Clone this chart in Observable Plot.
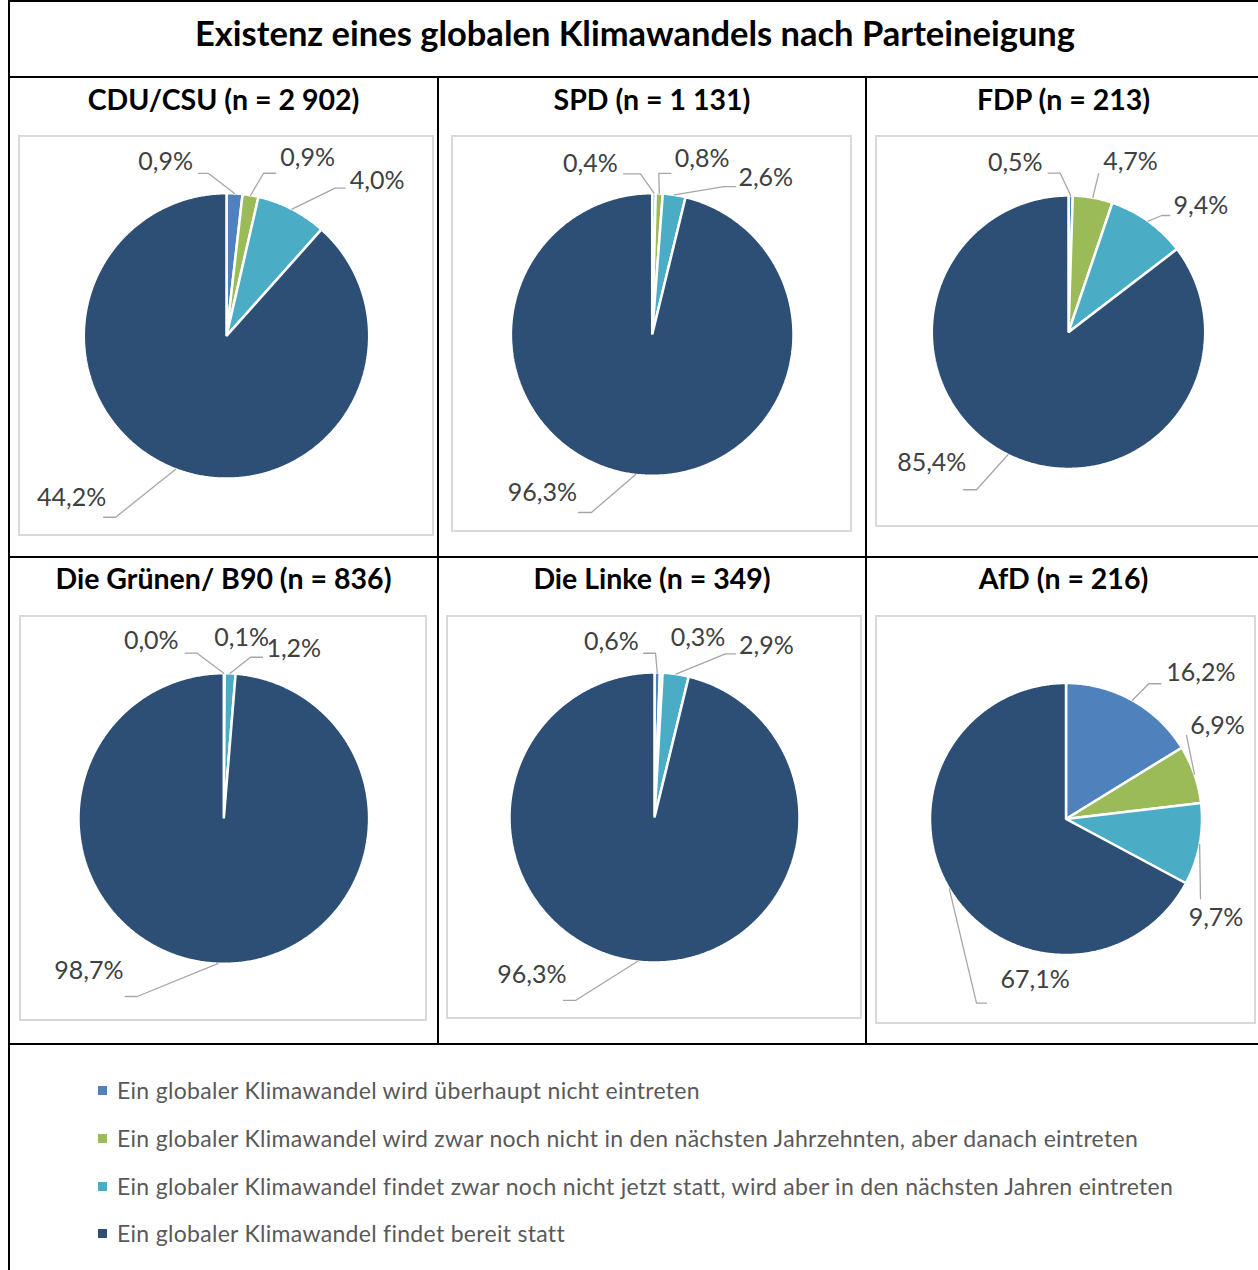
<!DOCTYPE html>
<html><head><meta charset="utf-8">
<script src="https://cdn.jsdelivr.net/npm/d3@7"></script>
<script src="https://cdn.jsdelivr.net/npm/@observablehq/plot@0.6"></script>
<style>
html,body{margin:0;padding:0;background:#fff}
body{width:1258px;height:1270px;overflow:hidden;position:relative;font-family:Lato,"Open Sans",sans-serif}
.line{position:absolute;background:#000}
.ttl{position:absolute;text-align:center;font-weight:700;color:#000;white-space:nowrap}
.frame{position:absolute;box-sizing:border-box;border:2px solid #D9D9D9}
.chart{position:absolute}
.leg{position:absolute;left:98px;font-size:23px;letter-spacing:0.3px;color:#595959;white-space:nowrap;display:flex;align-items:center}
.leg span.sw{display:inline-block;width:9px;height:9px;margin-right:10px}
</style></head><body>
<script>
// ---------- data ----------
const title = "Existenz eines globalen Klimawandels nach Parteineigung";
const categories = [
  "Ein globaler Klimawandel wird überhaupt nicht eintreten",
  "Ein globaler Klimawandel wird zwar noch nicht in den nächsten Jahrzehnten, aber danach eintreten",
  "Ein globaler Klimawandel findet zwar noch nicht jetzt statt, wird aber in den nächsten Jahren eintreten",
  "Ein globaler Klimawandel findet bereit statt"
];
const colors = ["#4F81BD", "#9BBB59", "#4BACC6", "#2D4E75"];
const parties = ["CDU/CSU", "SPD", "FDP", "Die Grünen/ B90", "Die Linke", "AfD"];
const sampleSizes = ["2 902", "1 131", "213", "836", "349", "216"];
const shareNie = [0.9, 0.4, 0.5, 0.0, 0.6, 16.2];
const shareSpaeter = [0.9, 0.8, 4.7, 0.1, 0.3, 6.9];
const shareBald = [4.0, 2.6, 9.4, 1.2, 2.9, 9.7];
const shareBereits = [44.2, 96.3, 85.4, 98.7, 96.3, 67.1];

// ---------- layout (page pixels) ----------
// frame box [left, top, right, bottom], pie centre and radius
const panelLayout = [
  {frame: [18, 135, 434, 536], cx: 226, cy: 335.4, r: 142.7, col: [10, 437], row: 99},
  {frame: [451, 135, 852, 532], cx: 651.7, cy: 334, r: 141.3, col: [439, 865], row: 99},
  {frame: [875, 135, 1264, 527], cx: 1068, cy: 331.7, r: 136.7, col: [867, 1260], row: 99},
  {frame: [19, 615, 427, 1021], cx: 223.3, cy: 818, r: 145.3, col: [10, 437], row: 578},
  {frame: [446, 615, 862, 1019], cx: 654, cy: 817, r: 145, col: [439, 865], row: 578},
  {frame: [875, 615, 1256, 1024], cx: 1065.5, cy: 818.5, r: 136, col: [867, 1260], row: 578}
];
// label nudges relative to slice edge midpoint: [labelDx, labelDy, kneeDx, kneeDy, tail]
const labelNudge = [
  [[-69, -31, -26, -20, -10], [57, -37, 13, -22, 12], [85, -28, 43, -21, 10], [-104, 29, -60, 48, -12]],
  [[-63.5, -29.7, -13.5, -19.4, -17], [42.9, -34.4, -0.5, -20, 12], [91.5, -16.9, 49.5, -8.4, 12], [-93, 18.7, -44, 37.7, -13]],
  [[-55.4, -33, -10.4, -22.3, -12], [37.7, -35.2, 5.7, -23.9, 0], [52.8, -14.8, 13.6, -5.6, 8], [-76.2, 8.2, -31.5, 35, -13]],
  [[-72.5, -31.9, -26.6, -20, -12], [17.4, -35.2], [63.6, -24.5, 20.3, -16.1, 12], [-128.9, 7.6, -80.7, 32.8, -12]],
  [[-45.9, -30.8, -1.7, -19.3, -12], [36.7, -34.7], [90.5, -27.8, 49.7, -20.3, 10], [-105.3, 14, -61.8, 39, -12]],
  [[68.5, -27.3, 16.5, -16.5, 12], [23.1, -48, -7.9, -38.8, 0], [16.4, 73.7, 0.9, 54.5, 0], [85.9, 90.8, 27.2, 114.3, 10]]
];

const fmt = v => d3.format(".1f")(v).replace(".", ",") + "%";
const body = document.body;
function el(cls, css, html) {
  const d = document.createElement("div");
  d.className = cls;
  Object.assign(d.style, css);
  if (html != null) d.innerHTML = html;
  body.appendChild(d);
  return d;
}

// grid lines
el("line", {left: "8px", top: "0px", width: "2px", height: "1270px"});
el("line", {left: "8px", top: "0px", width: "1260px", height: "2px"});
el("line", {left: "8px", top: "76px", width: "1260px", height: "2px"});
el("line", {left: "8px", top: "555.5px", width: "1260px", height: "2.3px"});
el("line", {left: "8px", top: "1042.5px", width: "1260px", height: "2.3px"});
el("line", {left: "437px", top: "77px", width: "2.3px", height: "967px"});
el("line", {left: "865px", top: "77px", width: "2.3px", height: "967px"});

// title
el("ttl", {left: "10px", width: "1250px", top: "12px", height: "42px", lineHeight: "42px", fontSize: "34.5px"}, title);

parties.forEach((party, i) => {
  const L = panelLayout[i];
  const values = [shareNie[i], shareSpaeter[i], shareBald[i], shareBereits[i]];
  el("ttl", {left: L.col[0] + "px", width: (L.col[1] - L.col[0]) + "px", top: (L.row - 18) + "px", height: "36px", lineHeight: "36px", fontSize: "28.5px"},
     `${party} (n = ${sampleSizes[i]})`);
  const [fl, ft, fr, fb] = L.frame;
  el("frame", {left: fl + "px", top: ft + "px", width: (fr - fl) + "px", height: (fb - ft) + "px"});

  const arcs = d3.pie().sort(null).value(d => d)(values);
  const slices = [], leaders = [], labels = [];
  arcs.forEach((a, k) => {
    if (a.endAngle > a.startAngle) {
      const n = Math.max(2, Math.ceil((a.endAngle - a.startAngle) / (Math.PI / 360)));
      slices.push({key: k, cat: categories[k], x: 0, y: 0});
      for (let j = 0; j <= n; j++) {
        const t = a.startAngle + (a.endAngle - a.startAngle) * j / n;
        slices.push({key: k, cat: categories[k], x: L.r * Math.sin(t), y: -L.r * Math.cos(t)});
      }
    }
    const m = (a.startAngle + a.endAngle) / 2;
    const ex = L.r * Math.sin(m), ey = -L.r * Math.cos(m);
    const nd = labelNudge[i][k];
    labels.push({x: ex + nd[0], y: ey + nd[1], text: fmt(values[k])});
    if (nd.length > 2) {
      const kx = ex + nd[2], ky = ey + nd[3];
      leaders.push({id: k, x: ex, y: ey}, {id: k, x: kx, y: ky});
      if (nd[4]) leaders.push({id: k, x: kx + nd[4], y: ky});
    }
  });

  const W = fr - fl, H = fb - ft;
  const chart = Plot.plot({
    width: W, height: H, margin: 0,
    x: {domain: [fl - L.cx, fr - L.cx], axis: null},
    y: {domain: [ft - L.cy, fb - L.cy], axis: null, reverse: true},
    color: {domain: categories, range: colors},
    style: {overflow: "visible", background: "transparent"},
    marks: [
      Plot.line(slices, {x: "x", y: "y", z: "key", fill: "cat", stroke: "white", strokeWidth: 2.5, strokeLinejoin: "miter", curve: "linear-closed"}),
      Plot.line(leaders, {x: "x", y: "y", z: "id", stroke: "#A6A6A6", strokeWidth: 1.3}),
      Plot.text(labels, {x: "x", y: "y", text: "text", fill: "#404040", fontSize: 25, fontFamily: "Lato"})
    ]
  });
  const wrap = el("chart", {left: fl + "px", top: ft + "px", width: W + "px", height: H + "px"});
  wrap.appendChild(chart);
});

// legend
const legendRows = [1090, 1138, 1186, 1233];
categories.forEach((c, k) => {
  el("leg", {top: (legendRows[k] - 15) + "px", height: "30px"},
     `<span class="sw" style="background:${colors[k]}"></span>${c}`);
});
</script>
</body></html>
